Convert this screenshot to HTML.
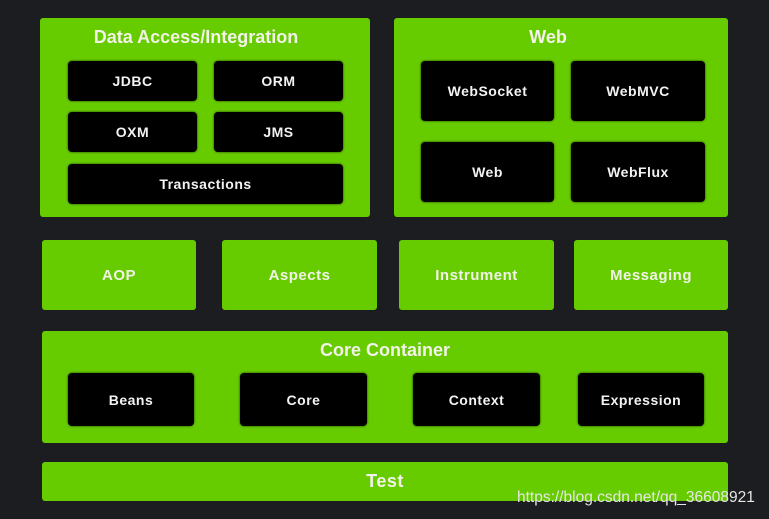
<!DOCTYPE html>
<html><head><meta charset="utf-8"><style>
*{margin:0;padding:0;box-sizing:border-box}
body{width:769px;height:519px;background:#1c1d20;position:relative;overflow:hidden;font-family:"Liberation Sans","DejaVu Sans",sans-serif;font-weight:bold}
.g{position:absolute;background:#66cc00;border-radius:3px;color:#f2f2e8}
.b{position:absolute;background:#000;border-radius:4px;color:#f2f2f2;font-size:14px;letter-spacing:0.5px;display:flex;align-items:center;justify-content:center;box-shadow:0 0 2px #1a3300}
.t{position:absolute;left:0;right:0;text-align:center;font-size:18px}
.c{display:flex;align-items:center;justify-content:center;font-size:15px;letter-spacing:0.5px}
</style></head><body>
<div class="g" style="left:40px;top:18px;width:330px;height:199px"><div class="t" style="top:9px;left:-18px">Data Access/Integration</div></div>
<div class="b" style="left:68px;top:61px;width:129px;height:40px">JDBC</div>
<div class="b" style="left:214px;top:61px;width:129px;height:40px">ORM</div>
<div class="b" style="left:68px;top:112px;width:129px;height:40px">OXM</div>
<div class="b" style="left:214px;top:112px;width:129px;height:40px">JMS</div>
<div class="b" style="left:68px;top:164px;width:275px;height:40px">Transactions</div>

<div class="g" style="left:394px;top:18px;width:334px;height:199px"><div class="t" style="top:9px;left:-26px">Web</div></div>
<div class="b" style="left:421px;top:61px;width:133px;height:60px">WebSocket</div>
<div class="b" style="left:571px;top:61px;width:134px;height:60px">WebMVC</div>
<div class="b" style="left:421px;top:142px;width:133px;height:60px">Web</div>
<div class="b" style="left:571px;top:142px;width:134px;height:60px">WebFlux</div>

<div class="g c" style="left:42px;top:240px;width:154px;height:70px">AOP</div>
<div class="g c" style="left:222px;top:240px;width:155px;height:70px">Aspects</div>
<div class="g c" style="left:399px;top:240px;width:155px;height:70px">Instrument</div>
<div class="g c" style="left:574px;top:240px;width:154px;height:70px">Messaging</div>

<div class="g" style="left:42px;top:331px;width:686px;height:112px"><div class="t" style="top:9px">Core Container</div></div>
<div class="b" style="left:68px;top:373px;width:126px;height:53px">Beans</div>
<div class="b" style="left:240px;top:373px;width:127px;height:53px">Core</div>
<div class="b" style="left:413px;top:373px;width:127px;height:53px">Context</div>
<div class="b" style="left:578px;top:373px;width:126px;height:53px">Expression</div>

<div class="g c" style="left:42px;top:462px;width:686px;height:39px;font-size:18px">Test</div>
<div style="position:absolute;left:517px;top:489px;font-size:15.5px;font-weight:normal;color:#e6e6e6;font-family:'Liberation Sans',sans-serif">https://blog.csdn.net/qq_36608921</div>
</body></html>
